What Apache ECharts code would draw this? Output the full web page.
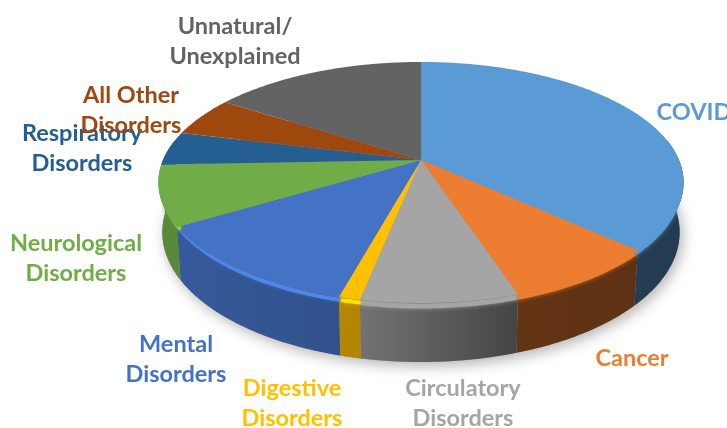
<!DOCTYPE html>
<html>
<head>
<meta charset="utf-8">
<style>html,body{margin:0;padding:0;background:#fff}#chart{width:727px;height:428px}</style>
<script src="https://cdn.jsdelivr.net/npm/echarts@6/dist/echarts.min.js"></script>
</head>
<body>
<div id="chart"></div>
<script>
var names = ['COVID', 'Cancer', 'Circulatory\nDisorders', 'Digestive\nDisorders', 'Mental\nDisorders',
    'Neurological\nDisorders', 'Respiratory\nDisorders', 'All Other\nDisorders', 'Unnatural/\nUnexplained'];
var values = [36.9, 8.1, 8.1, 1.1, 12.1, 8.1, 4.5, 5.3, 15.8];
var colors = ['#5B9BD5', '#ED7D31', '#A5A5A5', '#FFC000', '#4472C4', '#70AD47', '#255E91', '#9E480E', '#636363'];

// label centres, same order as names
var labelX = [694, 632, 463, 292, 176, 76, 82, 131, 235];
var labelY = [112, 358, 403, 403, 359, 258, 148, 110, 41];

// perspective disc
var cx = 421, cy = 160, A = 258, B = 116.3, k = 0.1867, depth = 48;
var total = values.reduce(function (a, b) { return a + b; }, 0);
var starts = [];
values.reduce(function (a, b, i) { starts[i] = a; return a + b; }, 0);

function project(deg, low) {
    var t = deg * Math.PI / 180;
    var u = Math.sin(t), v = -Math.cos(t), w = 1 - k * v;
    var s = low ? 0.985 : 1;
    return [cx + s * A * u / w, cy + B * v / w + low * depth / w];
}
function arc(a, b, low) {
    var pts = [], n = Math.max(2, Math.ceil(Math.abs(b - a)));
    for (var i = 0; i <= n; i++) pts.push(project(a + (b - a) * i / n, low));
    return pts;
}
function shade(hex, f) {
    var n = parseInt(hex.slice(1), 16);
    var ch = function (c) { return Math.min(255, Math.round(c * f)); };
    return 'rgb(' + ch(n >> 16) + ',' + ch((n >> 8) & 255) + ',' + ch(n & 255) + ')';
}
function wallFill(hex) {
    return new echarts.graphic.LinearGradient(160, 0, 685, 0, [
        { offset: 0, color: shade(hex, 0.8) },
        { offset: 0.38, color: shade(hex, 0.7) },
        { offset: 0.68, color: shade(hex, 0.42) },
        { offset: 1, color: shade(hex, 0.38) }
    ], true);
}
function angles(i, value) {
    var a = starts[i] / total * 360;
    return [a, a + value / total * 360];
}

function renderShadow() {
    return {
        type: 'polygon',
        shape: { points: arc(0, 360, 1) },
        style: { fill: '#999', shadowBlur: 14, shadowColor: 'rgba(0,0,0,0.3)', shadowOffsetX: 3, shadowOffsetY: 4 }
    };
}
function renderWall(params, api) {
    var i = params.dataIndex, r = angles(i, api.value(0));
    var a = Math.max(r[0], 80), b = Math.min(r[1], 280);
    if (a >= b) return;
    return {
        type: 'polygon',
        shape: { points: arc(a, b, 0).concat(arc(b, a, 1)) },
        style: { fill: wallFill(colors[i]) }
    };
}
function renderTop(params, api) {
    var i = params.dataIndex, r = angles(i, api.value(0));
    var children = [];
    var a = Math.max(r[0], 112), b = Math.min(r[1], 250);
    if (a < b) {
        // soft bevel: a blurred band of the face colour over the top of the wall
        var bright = (a + b) / 2 > 180;
        children.push({
            type: 'polyline',
            shape: { points: arc(a, b, 0.05) },
            style: {
                fill: 'none',
                stroke: bright ? shade(colors[i], 1.18) : colors[i],
                lineWidth: bright ? 4 : 5,
                shadowBlur: 4,
                shadowColor: shade(colors[i], 0.9)
            }
        });
    }
    children.push({
        type: 'polygon',
        shape: { points: [[cx, cy]].concat(arc(r[0], r[1], 0)) },
        style: { fill: colors[i] }
    });
    return { type: 'group', children: children };
}

var labels = names.map(function (name, i) {
    return {
        type: 'text',
        x: labelX[i],
        y: labelY[i],
        z: 10,
        style: {
            text: name,
            fill: colors[i],
            font: 'bold 23.5px Lato, "Open Sans", sans-serif',
            lineHeight: 30,
            align: 'center',
            verticalAlign: 'middle'
        }
    };
});

var chart = echarts.init(document.getElementById('chart'), null, { renderer: 'canvas' });
chart.setOption({
    animation: false,
    backgroundColor: '#fff',
    graphic: labels,
    series: [
        { type: 'custom', coordinateSystem: 'none', z: 1, silent: true, data: [0], renderItem: renderShadow },
        { type: 'custom', coordinateSystem: 'none', z: 2, silent: true, data: values, renderItem: renderWall },
        { type: 'custom', coordinateSystem: 'none', z: 3, silent: true, data: values, renderItem: renderTop }
    ]
});
</script>
</body>
</html>
